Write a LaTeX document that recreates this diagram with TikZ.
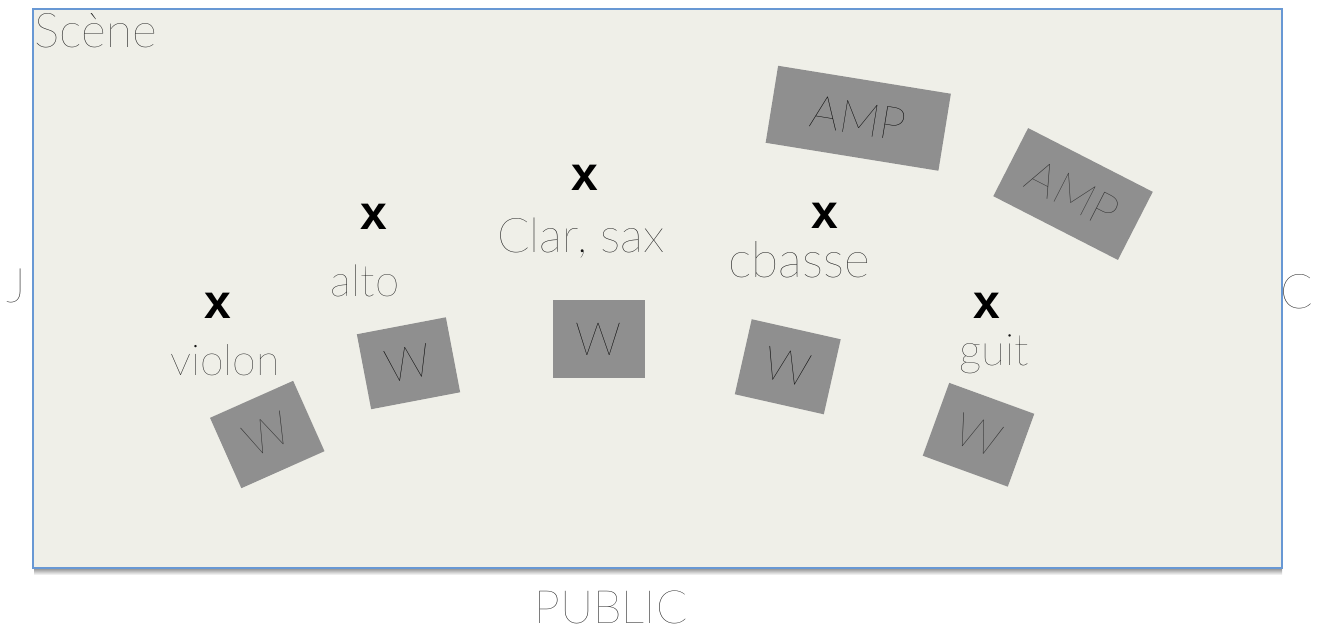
\documentclass[tikz,border=0pt]{standalone}
\usepackage{fontspec}
\newfontfamily\thinfont{Lato Hairline}
\newfontfamily\xfont{Liberation Sans}
\definecolor{stagefill}{RGB}{239,239,232}
\definecolor{stageline}{RGB}{104,152,212}
\definecolor{boxgray}{RGB}{143,143,143}
\definecolor{labelgray}{RGB}{20,20,20}
\definecolor{softtext}{RGB}{40,40,40}
\begin{document}
\begin{tikzpicture}[x=1pt,y=-1pt,
  lbl/.style={font=\thinfont\fontsize{48}{48}\selectfont, text=labelgray, inner sep=0pt, anchor=base},
  xmark/.style={font=\xfont\bfseries\fontsize{48}{48}\selectfont, text=black, inner sep=0pt},
  spk/.style={fill=boxgray, inner sep=0pt, font=\thinfont\fontsize{46}{46}\selectfont, text=black},
]
\useasboundingbox (0,0) rectangle (1321,630);
% shadow under the stage
\shade[top color=black!45, bottom color=white] (34,568) rectangle (1282,575);
% stage
\node[draw=stageline, line width=1.6pt, fill=stagefill, minimum width=1249pt, minimum height=559pt, inner sep=0pt] (stage) at (657.5,288.5) {};
\node[lbl, anchor=base west] (scene) at (34,47) {Scène};
\node[lbl] (J) at (16,302) {J};
\node[lbl] (C) at (1297,308) {C};
\node[lbl, font=\thinfont\fontsize{46}{46}\selectfont] (public) at (611,623) {PUBLIC};
% musicians
\node[xmark] (xv) at (218,306) {x};
\node[lbl, font=\thinfont\fontsize{43}{43}\selectfont] (violon) at (225,375) {violon};
\node[xmark] (xa) at (374,217) {x};
\node[lbl, font=\thinfont\fontsize{44}{44}\selectfont] (alto) at (365,296) {alto};
\node[xmark] (xc) at (585,178) {x};
\node[lbl] (clar) at (581,252) {Clar, sax};
\node[xmark] (xb) at (825,216) {x};
\node[lbl, font=\thinfont\fontsize{50}{50}\selectfont] (cbasse) at (799,277) {cbasse};
\node[xmark] (xg) at (987,306) {x};
\node[lbl, font=\thinfont\fontsize{44}{44}\selectfont] (guit) at (994,365) {guit};
% wedges
\node[spk, minimum width=91pt, minimum height=77pt, rotate=24, text=softtext] (wv) at (267.25,434.5) {W};
\node[spk, minimum width=90.6pt, minimum height=76.3pt, rotate=10.8] (wa) at (408.5,363.25) {W};
\node[spk, minimum width=92pt, minimum height=78pt] (wc) at (599,339) {W};
\node[spk, minimum width=91.2pt, minimum height=76.9pt, rotate=-12.7] (wb) at (787.75,366.75) {W};
\node[spk, minimum width=90.5pt, minimum height=77.5pt, rotate=-20, text=softtext] (wg) at (978.5,434.75) {W};
% amps
\node[spk, minimum width=175pt, minimum height=78pt, rotate=-9.2] (amp1) at (858.25,118.25) {AMP};
\node[spk, minimum width=140pt, minimum height=76.5pt, rotate=-27.1, text=softtext] (amp2) at (1073,194) {AMP};
\end{tikzpicture}
\end{document}
